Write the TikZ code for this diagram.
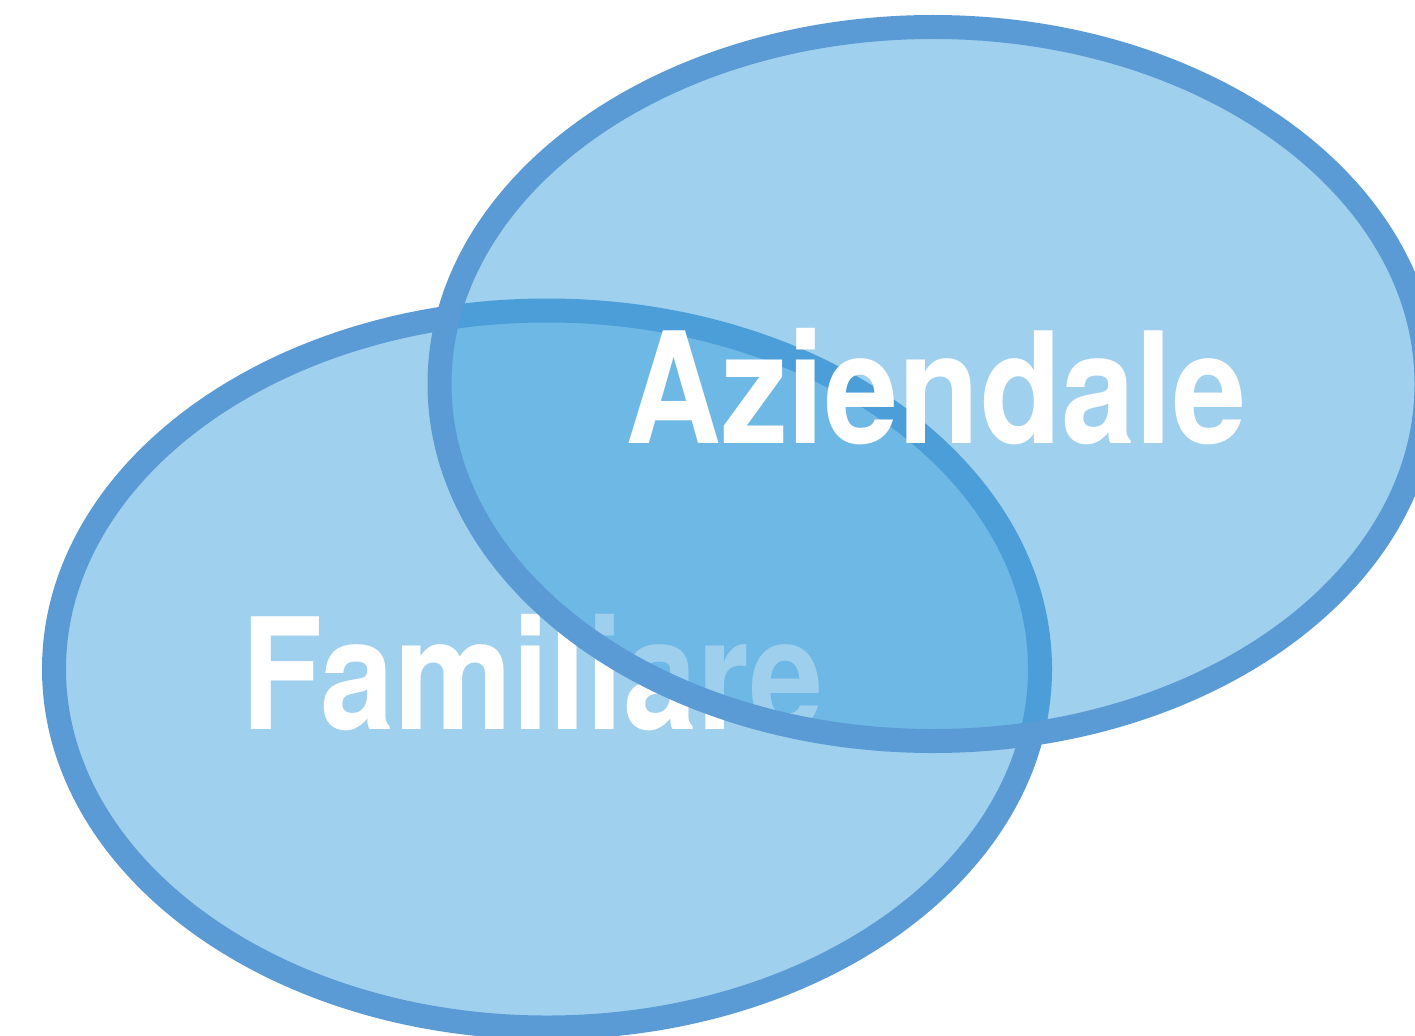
\documentclass[tikz,border=0pt]{standalone}
\usepackage{fontspec}
\newfontfamily\vennfont{TeX Gyre Heros}[FakeStretch=0.86]
\definecolor{vennfill}{HTML}{3FA1DD}
\definecolor{vennline}{HTML}{5B9BD5}
\tikzset{
  venn/.style={draw=vennline, line width=0.48cm, fill=vennfill, fill opacity=0.5, draw opacity=1},
  vennlabel/.style={text=white, inner sep=0pt, anchor=base west,
    font=\vennfont\bfseries\fontsize{88}{88}\selectfont}
}
\begin{document}
\begin{tikzpicture}
\useasboundingbox (0,0) rectangle (28.3,-20.7);
\clip (0,0) rectangle (28.3,-20.7);
\draw[venn] (10.94,-13.38) ellipse (9.86 and 7.17);
\node[vennlabel] (familiare) at (4.82,-14.58) {Familiare};
\draw[venn] (18.66,-7.68) ellipse (9.87 and 7.14);
\node[vennlabel] (aziendale) at (12.5,-8.86) {Aziendale};
\end{tikzpicture}
\end{document}
